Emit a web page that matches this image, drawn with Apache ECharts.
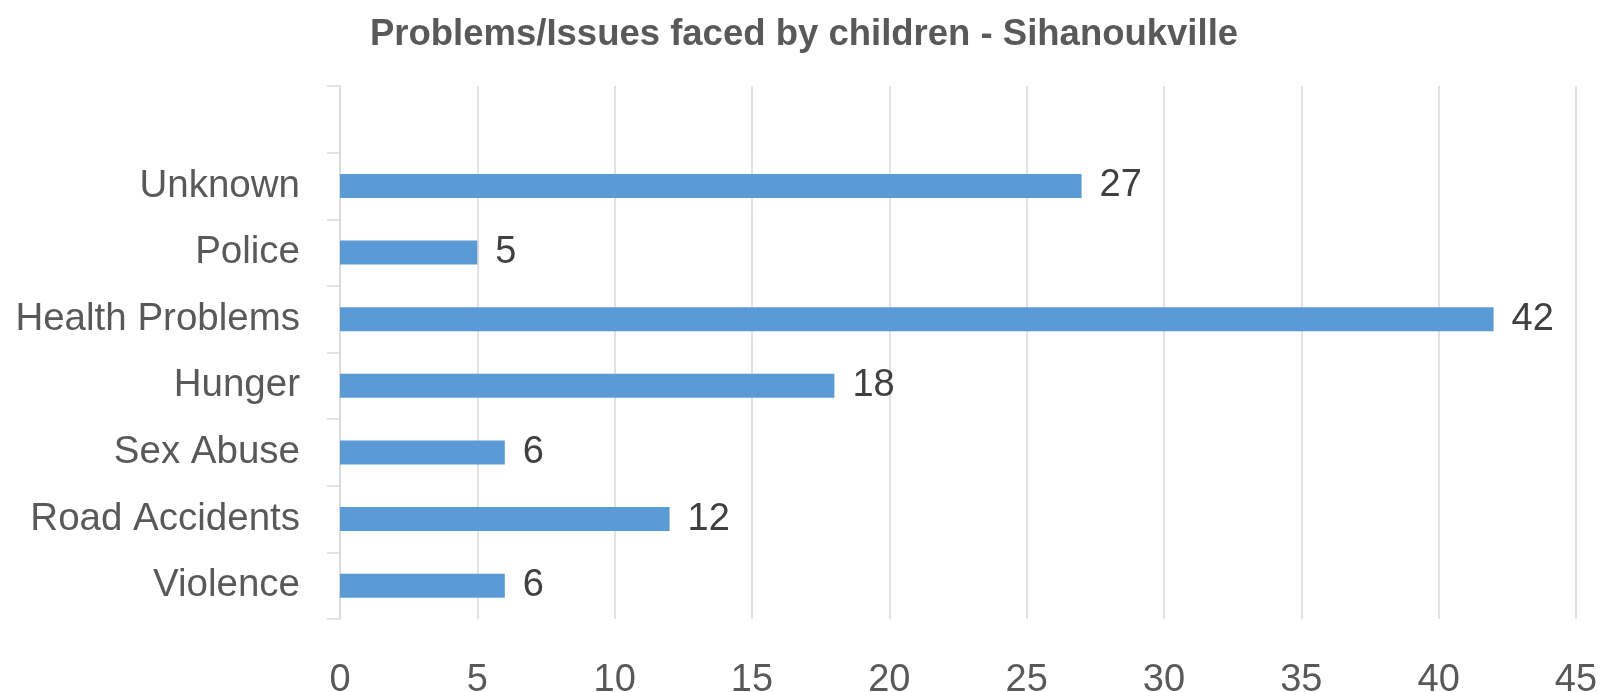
<!DOCTYPE html>
<html>
<head>
<meta charset="utf-8">
<script src="https://cdn.jsdelivr.net/npm/echarts@6/dist/echarts.min.js"></script>
<style>html,body{margin:0;padding:0;background:#fff;}#c{width:1608px;height:692px;}</style>
</head>
<body>
<div id="c"></div>
<script>
const titleText = 'Problems/Issues faced by children - Sihanoukville';
const categories = ['Violence', 'Road Accidents', 'Sex Abuse', 'Hunger', 'Health Problems', 'Police', 'Unknown', ''];
const values = [6, 12, 6, 18, 42, 5, 27, null];
const xMin = 0, xMax = 45, xStep = 5;

const chart = echarts.init(document.getElementById('c'));
chart.setOption({
  animation: false,
  title: {
    text: titleText,
    left: 'center',
    top: 11,
    textStyle: { fontFamily: 'Liberation Sans', fontWeight: 'bold', fontSize: 36.5, color: '#595959' }
  },
  grid: { left: 340, right: 32, top: 86, bottom: 73, containLabel: false, outerBoundsMode: 'none' },
  xAxis: {
    type: 'value', min: xMin, max: xMax, interval: xStep,
    axisLine: { show: false }, axisTick: { show: false },
    splitLine: { show: true, lineStyle: { color: '#d9d9d9', width: 1.5 } },
    axisLabel: { margin: 43, fontFamily: 'Liberation Sans', fontSize: 38, color: '#595959' }
  },
  yAxis: {
    type: 'category', data: categories,
    axisLine: { show: true, lineStyle: { color: '#d9d9d9', width: 1.5 } },
    axisTick: { show: true, length: 13, alignWithLabel: false, lineStyle: { color: '#d9d9d9', width: 1.5 } },
    axisLabel: { margin: 40, fontFamily: 'Liberation Sans', fontSize: 38.5, color: '#595959' }
  },
  series: [{
    type: 'bar', data: values, barWidth: 24,
    itemStyle: { color: '#5b9bd5' },
    label: { show: true, position: 'right', distance: 18, fontFamily: 'Liberation Sans', fontSize: 38, color: '#404040' }
  }]
});
</script>
</body>
</html>
